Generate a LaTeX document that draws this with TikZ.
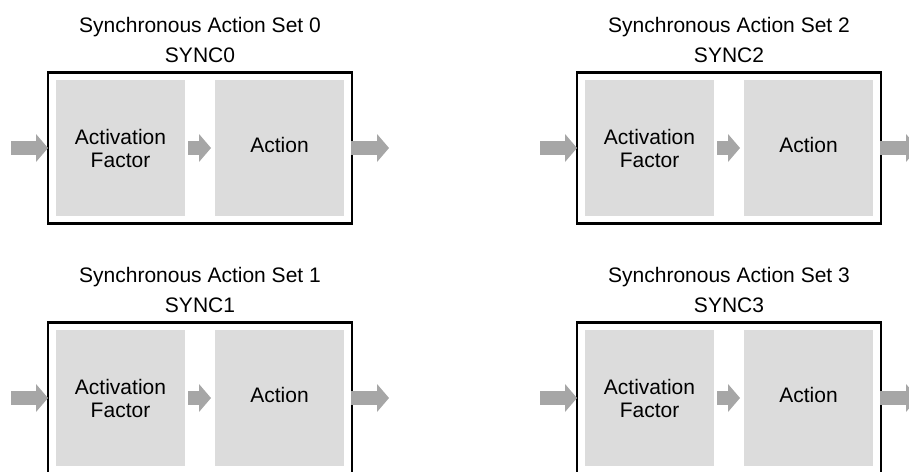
\documentclass[tikz,border=0pt]{standalone}
\usepackage{fontspec}
\setmainfont{Liberation Sans}
\usetikzlibrary{arrows.meta}
\definecolor{arrgray}{HTML}{A6A6A6}
\definecolor{boxgray}{HTML}{DCDCDC}
\begin{document}
\begin{tikzpicture}[x=1pt,y=-1pt,
  setbox/.style={draw=black, line width=2.5pt, minimum width=304pt, minimum height=151pt, outer sep=0pt, inner sep=0pt},
  stagebox/.style={fill=boxgray, minimum width=129pt, minimum height=136pt, outer sep=0pt, inner sep=0pt, font=\fontsize{21}{23}\selectfont, align=center},
  flow/.style={draw=arrgray, line width=14pt, line cap=butt, -{Triangle[width=28pt,length=12pt,line width=0pt]}},
  title/.style={anchor=base, font=\fontsize{21}{23}\selectfont, inner sep=0pt}]
\useasboundingbox (0,0) rectangle (909,471);
\clip (0,0) rectangle (909,471);
\foreach \n/\dx/\dy in {0/0/0,1/0/250,2/529/0,3/529/250}{
  \node[setbox] (set\n) at (200+\dx,148+\dy) {};
  \node[stagebox] (act\n) at (120.5+\dx,148+\dy) {Activation\\Factor};
  \node[stagebox, text depth=7pt] (do\n) at (279.5+\dx,148+\dy) {Action};
  \node[title] (sync\n) at ([yshift=10pt]set\n.north) {SYNC\n};
  \node[title] (name\n) at ([yshift=40.5pt]set\n.north) {Synchronous Action Set \n};
  \coordinate (in\n) at (11+\dx,148+\dy);
  \coordinate (out\n) at (389+\dx,148+\dy);
  \draw[flow] (in\n) -- (set\n.west);
  \draw[flow, shorten <=3pt, shorten >=4pt] (act\n.east) -- (do\n.west);
  \draw[flow, shorten <=-1pt] (set\n.east) -- (out\n);
}
\end{tikzpicture}
\end{document}
